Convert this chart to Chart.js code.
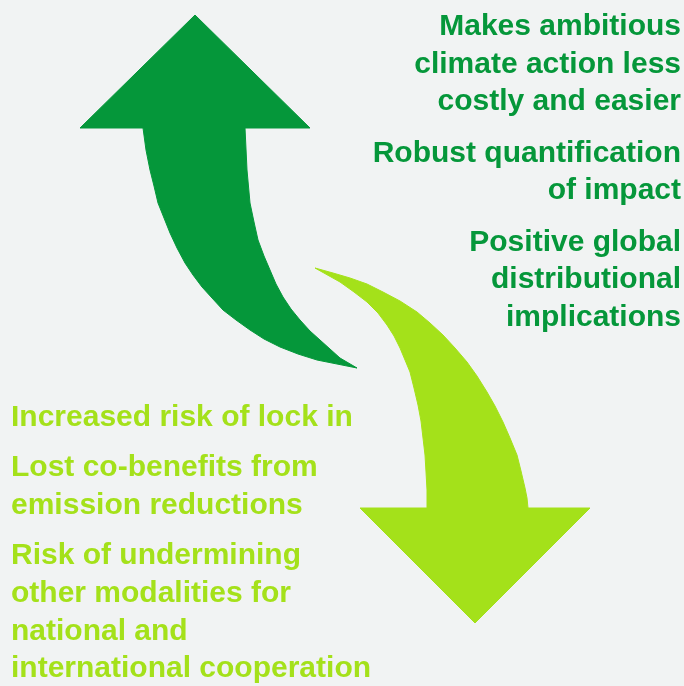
<!DOCTYPE html>
<html>
<head>
<meta charset="utf-8">
<script src="https://cdn.jsdelivr.net/npm/chart.js@4/dist/chart.umd.min.js"></script>
<style>
  html, body { margin: 0; padding: 0; background: #f1f3f3; }
  #wrap { width: 684px; height: 686px; }
</style>
</head>
<body>
<div id="wrap"><canvas id="chart" width="684" height="686"></canvas></div>
<script>
// upward arrow outline (x, y in picture units)
const upArrowX = [195, 310, 245, 247, 250, 254, 258, 264, 270, 276, 283, 291, 300, 310, 320, 330, 340, 357,
                  337, 317, 298, 280, 264, 250, 236, 223, 212, 202, 193, 185, 177, 170, 164, 158, 154, 150, 146, 143, 80, 195];
const upArrowY = [15, 128, 128, 170, 203, 222, 240, 256, 270, 284, 297, 309, 320, 331, 340, 349, 358, 368,
                  364, 360, 354, 347, 339, 330, 320, 310, 298, 287, 275, 263, 248, 233, 218, 203, 186, 170, 150, 128, 128, 15];

// downward arrow outline
const downArrowX = [315, 333, 350, 367, 383, 400, 417, 430, 443, 455, 467, 477, 487, 495, 503, 510, 517, 521, 525, 527, 528, 590, 475, 360, 427,
                    427, 426, 425, 423, 421, 418, 414, 410, 405, 400, 394, 387, 378, 367, 354, 340, 315];
const downArrowY = [268, 273, 278, 284, 292, 301, 312, 323, 335, 348, 362, 376, 392, 406, 422, 438, 455, 471, 488, 498, 508, 508, 623, 508, 508,
                    490, 472, 455, 438, 421, 405, 388, 372, 360, 348, 336, 325, 313, 302, 292, 282, 268];

// benefits (right) and risks (left)
const benefits = [
  ["Makes ambitious", "climate action less", "costly and easier"],
  ["Robust quantification", "of impact"],
  ["Positive global", "distributional", "implications"]
];
const risks = [
  ["Increased risk of lock in"],
  ["Lost co-benefits from", "emission reductions"],
  ["Risk of undermining", "other modalities for", "national and", "international cooperation"]
];

const darkGreen = "#05973a";
const lightGreen = "#a4e11a";

const toPoints = (xs, ys) => xs.map((x, i) => ({ x, y: ys[i] }));

// draws the text blocks
const textPlugin = {
  id: "textBlocks",
  afterDraw(chart) {
    const ctx = chart.ctx;
    const sx = chart.scales.x, sy = chart.scales.y;
    ctx.save();
    ctx.font = "bold 30px 'Liberation Sans', Arial, sans-serif";
    ctx.textBaseline = "alphabetic";

    ctx.fillStyle = darkGreen;
    ctx.textAlign = "right";
    let y = 35;
    benefits.forEach(block => {
      block.forEach(line => {
        ctx.fillText(line, sx.getPixelForValue(681), sy.getPixelForValue(y));
        y += 37.5;
      });
      y += 14;
    });

    ctx.fillStyle = lightGreen;
    ctx.textAlign = "left";
    y = 426;
    risks.forEach(block => {
      block.forEach(line => {
        ctx.fillText(line, sx.getPixelForValue(11), sy.getPixelForValue(y));
        y += 37.7;
      });
      y += 12.5;
    });
    ctx.restore();
  }
};

new Chart(document.getElementById("chart"), {
  type: "scatter",
  data: {
    datasets: [
      {
        data: toPoints(upArrowX, upArrowY),
        showLine: true,
        fill: "shape",
        backgroundColor: darkGreen,
        borderColor: darkGreen,
        borderWidth: 1,
        pointRadius: 0,
        tension: 0
      },
      {
        data: toPoints(downArrowX, downArrowY),
        showLine: true,
        fill: "shape",
        backgroundColor: lightGreen,
        borderColor: lightGreen,
        borderWidth: 1,
        pointRadius: 0,
        tension: 0
      }
    ]
  },
  options: {
    responsive: false,
    animation: false,
    layout: { padding: 0 },
    scales: {
      x: { type: "linear", min: 0, max: 684, display: false },
      y: { type: "linear", min: 0, max: 686, reverse: true, display: false }
    },
    plugins: {
      legend: { display: false },
      tooltip: { enabled: false }
    }
  },
  plugins: [textPlugin]
});
</script>
</body>
</html>
